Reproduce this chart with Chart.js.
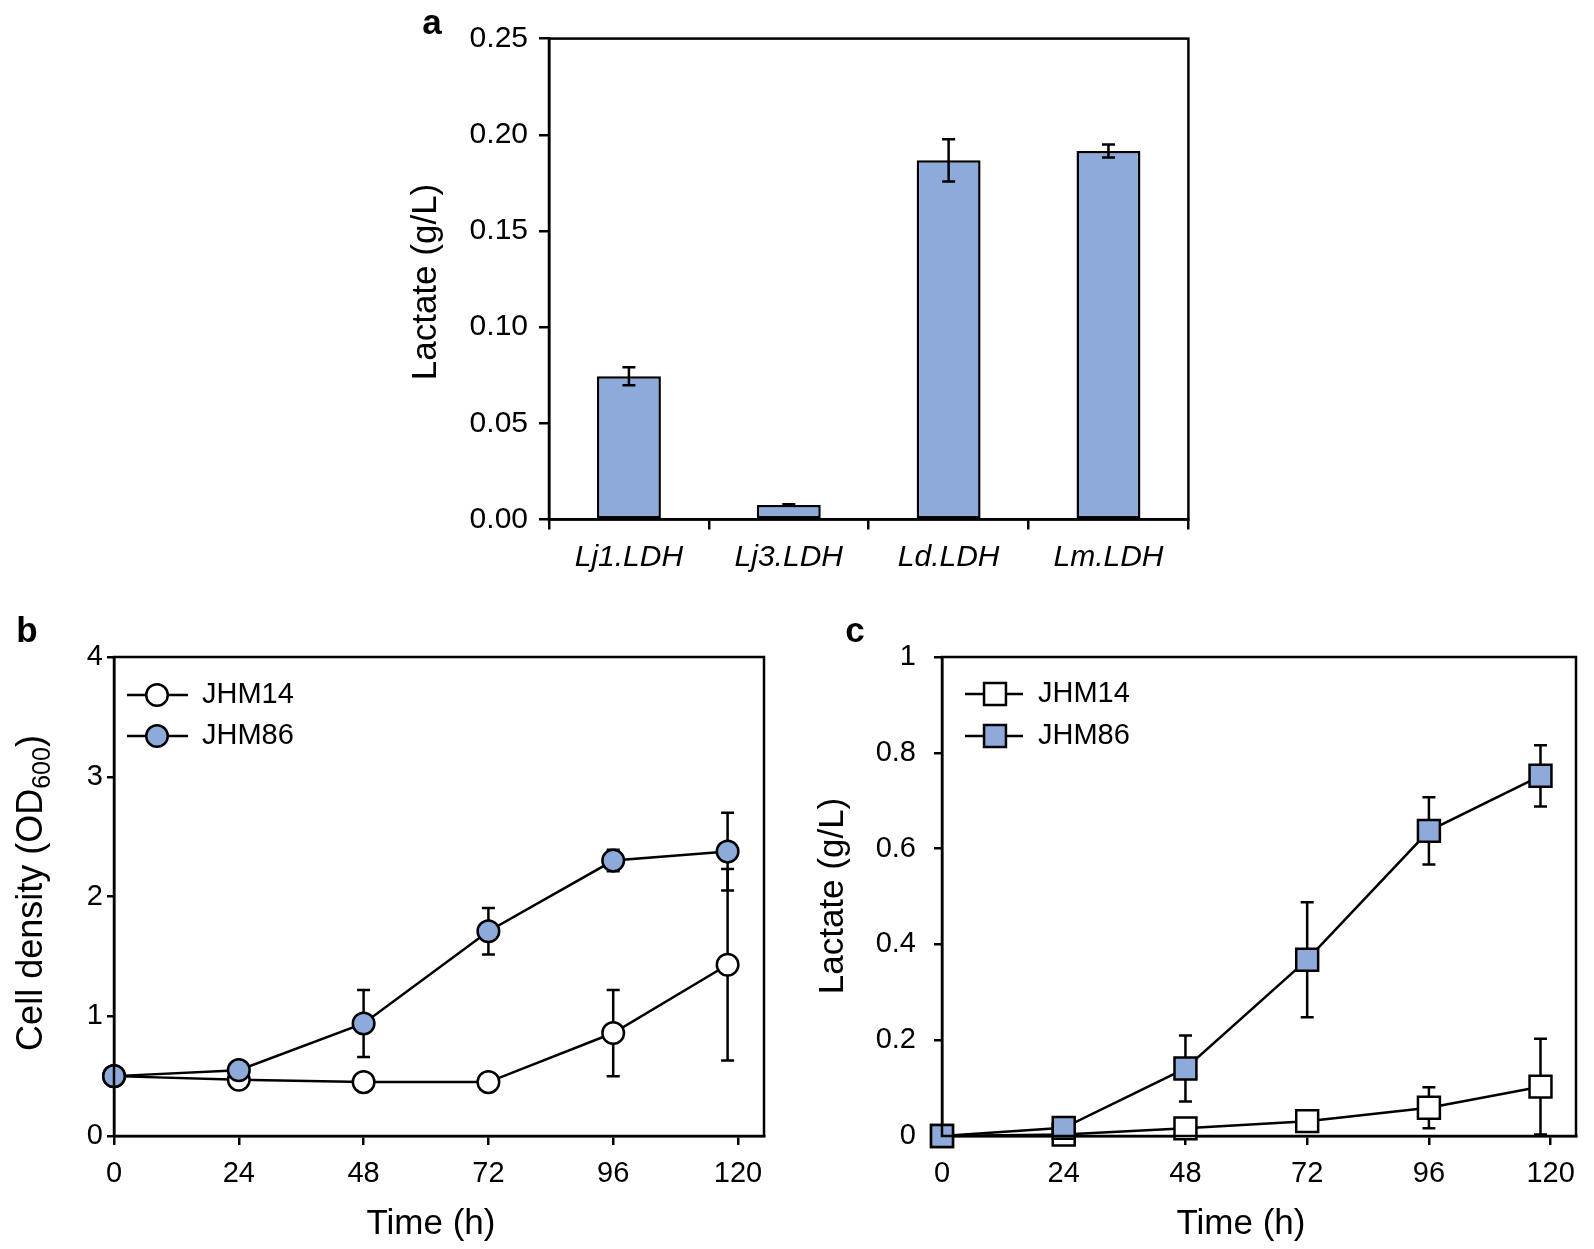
<!DOCTYPE html>
<html>
<head>
<meta charset="utf-8">
<script src="https://cdn.jsdelivr.net/npm/chart.js@4.4.1/dist/chart.umd.min.js"></script>
<style>
  html, body { margin: 0; padding: 0; background: #fff; }
  #wrap { position: relative; width: 1594px; height: 1249px; }
  #wrap canvas { position: absolute; left: 0; top: 0; }
</style>
</head>
<body>
<div id="wrap">
  <canvas id="chartA" width="1594" height="1249"></canvas>
  <canvas id="chartB" width="1594" height="1249"></canvas>
  <canvas id="chartC" width="1594" height="1249"></canvas>
</div>
<script>
// panel a - lactate by LDH variant
const ldhLabels = ['Lj1.LDH', 'Lj3.LDH', 'Ld.LDH', 'Lm.LDH'];
const ldhLactate = [0.0745, 0.0076, 0.1867, 0.1916];
const ldhLactateErr = [0.0047, 0.0003, 0.011, 0.0034];

// panels b and c - time course
const hours = [0, 24, 48, 72, 96, 118];
const hourTicks = [0, 24, 48, 72, 96, 120];
const odJHM14 = [0.5, 0.47, 0.45, 0.45, 0.86, 1.43];
const odJHM14Err = [0, 0, 0, 0, 0.36, 0.80];
const odJHM86 = [0.5, 0.55, 0.94, 1.71, 2.30, 2.375];
const odJHM86Err = [0, 0, 0.28, 0.195, 0.09, 0.325];
const lacJHM14 = [0, 0.003, 0.016, 0.031, 0.059, 0.103];
const lacJHM14Err = [0, 0, 0, 0, 0.043, 0.10];
const lacJHM86 = [0, 0.017, 0.141, 0.368, 0.637, 0.752];
const lacJHM86Err = [0, 0, 0.069, 0.12, 0.07, 0.064];

const FONT = "'Liberation Sans', Arial, Helvetica, sans-serif";
const BLUE = '#8eaadb';
const LW = 2.5;
const W = 1594, H = 1249, YW = 100, XH = 100;

Chart.defaults.font.family = FONT;
Chart.defaults.color = '#000';

// chart area is placed by padding + fixed axis sizes
function boxPadding(l, t, r, b) {
  return { left: l - YW, top: t, right: W - r, bottom: H - b - XH };
}

function toPoints(ys) {
  return ys.map((y, i) => ({ x: hours[i], y: y }));
}

const errorBars = {
  id: 'errorBars',
  draw(chart) {
    const ctx = chart.ctx;
    ctx.save();
    ctx.strokeStyle = '#000';
    ctx.lineWidth = LW;
    chart.data.datasets.forEach((ds, i) => {
      if (!ds.errors) return;
      const meta = chart.getDatasetMeta(i);
      const yScale = chart.scales[meta.yAxisID];
      meta.data.forEach((el, j) => {
        const e = ds.errors[j];
        if (!e) return;
        const v = typeof ds.data[j] === 'object' ? ds.data[j].y : ds.data[j];
        const top = yScale.getPixelForValue(v + e);
        const bot = yScale.getPixelForValue(v - e);
        ctx.beginPath();
        ctx.moveTo(el.x, top);
        ctx.lineTo(el.x, bot);
        ctx.moveTo(el.x - 6.5, top);
        ctx.lineTo(el.x + 6.5, top);
        ctx.moveTo(el.x - 6.5, bot);
        ctx.lineTo(el.x + 6.5, bot);
        ctx.stroke();
      });
    });
    ctx.restore();
  },
  beforeDatasetsDraw(chart, args, opts) {
    if (opts.behind) this.draw(chart);
  },
  afterDatasetsDraw(chart, args, opts) {
    if (!opts.behind) this.draw(chart);
  }
};

const frameBox = {
  id: 'frameBox',
  afterDraw(chart) {
    const { ctx, chartArea: a } = chart;
    ctx.save();
    ctx.strokeStyle = '#000';
    ctx.lineWidth = LW;
    ctx.strokeRect(a.left, a.top, a.right - a.left, a.bottom - a.top);
    ctx.restore();
  }
};

const panelText = {
  id: 'panelText',
  afterDraw(chart, args, opts) {
    const ctx = chart.ctx;
    (opts.items || []).forEach(it => {
      ctx.save();
      ctx.fillStyle = '#000';
      ctx.textBaseline = 'middle';
      ctx.translate(it.x, it.y);
      if (it.rotate) ctx.rotate(-Math.PI / 2);
      const parts = it.parts || [{ t: it.text }];
      const fonts = parts.map(p => (it.bold ? 'bold ' : '') + (p.sub ? it.subSize : it.size) + 'px ' + FONT);
      let total = 0;
      const widths = parts.map((p, k) => {
        ctx.font = fonts[k];
        const w = ctx.measureText(p.t).width;
        total += w;
        return w;
      });
      let x = -total / 2;
      ctx.textAlign = 'left';
      parts.forEach((p, k) => {
        ctx.font = fonts[k];
        ctx.fillText(p.t, x, p.sub ? it.size * 0.3 : 0);
        x += widths[k];
      });
      ctx.restore();
    });
  }
};

const lineLegend = {
  id: 'lineLegend',
  afterDraw(chart, args, opts) {
    if (!opts.ys) return;
    const ctx = chart.ctx;
    chart.data.datasets.forEach((ds, i) => {
      const y = opts.ys[i];
      ctx.save();
      ctx.strokeStyle = '#000';
      ctx.lineWidth = LW;
      ctx.beginPath();
      ctx.moveTo(opts.x0, y);
      ctx.lineTo(opts.x1, y);
      ctx.stroke();
      ctx.fillStyle = ds.pointBackgroundColor;
      ctx.beginPath();
      if (ds.pointStyle === 'rect') {
        const s = ds.pointRadius * Math.SQRT1_2;
        ctx.rect(opts.mx - s, y - s, 2 * s, 2 * s);
      } else {
        ctx.arc(opts.mx, y, ds.pointRadius, 0, Math.PI * 2);
      }
      ctx.fill();
      ctx.stroke();
      ctx.fillStyle = '#000';
      ctx.font = opts.size + 'px ' + FONT;
      ctx.textAlign = 'left';
      ctx.textBaseline = 'middle';
      ctx.fillText(ds.label, opts.tx, y);
      ctx.restore();
    });
  }
};

function yAxis(min, max, step, fmt, tickLen, pad, size) {
  return {
    min: min,
    max: max,
    border: { display: true, color: '#000', width: LW },
    grid: { drawOnChartArea: false, drawTicks: true, tickLength: tickLen, color: '#000', lineWidth: LW },
    ticks: { stepSize: step, padding: pad, color: '#000', font: { size: size }, callback: fmt },
    afterFit: s => { s.width = YW; }
  };
}

function timeAxis() {
  return {
    type: 'linear',
    min: 0,
    max: 125,
    border: { display: true, color: '#000', width: LW },
    grid: { drawOnChartArea: false, drawTicks: true, tickLength: 9, color: '#000', lineWidth: LW },
    ticks: { stepSize: 24, includeBounds: false, padding: 12, color: '#000', font: { size: 29 } },
    afterBuildTicks: s => { s.ticks = hourTicks.map(v => ({ value: v })); },
    afterFit: s => { s.height = XH; }
  };
}

function lineSet(label, ys, errs, style, fill, radius, order) {
  return {
    label: label,
    data: toPoints(ys),
    errors: errs,
    borderColor: '#000',
    borderWidth: LW,
    pointStyle: style,
    pointRadius: radius,
    pointHoverRadius: radius,
    pointBackgroundColor: fill,
    pointBorderColor: '#000',
    pointBorderWidth: LW,
    tension: 0,
    clip: false,
    order: order
  };
}

// a
new Chart(document.getElementById('chartA'), {
  type: 'bar',
  data: {
    labels: ldhLabels,
    datasets: [{
      label: 'Lactate',
      data: ldhLactate,
      errors: ldhLactateErr,
      backgroundColor: BLUE,
      borderColor: '#000',
      borderWidth: LW,
      borderSkipped: false,
      barPercentage: 0.4,
      categoryPercentage: 1.0
    }]
  },
  options: {
    responsive: false,
    animation: false,
    devicePixelRatio: 1,
    layout: { padding: boxPadding(549, 38.6, 1188.4, 519.5) },
    plugins: {
      legend: { display: false },
      tooltip: { enabled: false },
      errorBars: { behind: false },
      panelText: {
        items: [
          { text: 'a', x: 432, y: 24, size: 35, bold: true },
          { text: 'Lactate (g/L)', x: 426, y: 282, size: 35, rotate: true }
        ]
      }
    },
    scales: {
      x: {
        type: 'category',
        offset: true,
        border: { display: true, color: '#000', width: LW },
        grid: { offset: true, drawOnChartArea: false, drawTicks: true, tickLength: 10, color: '#000', lineWidth: LW },
        ticks: { padding: 10, color: '#000', font: { size: 30, style: 'italic' } },
        afterFit: s => { s.height = XH; }
      },
      y: yAxis(0, 0.25, 0.05, v => v.toFixed(2), 10, 11, 30)
    }
  },
  plugins: [errorBars, frameBox, panelText]
});

// b
new Chart(document.getElementById('chartB'), {
  type: 'line',
  data: {
    datasets: [
      lineSet('JHM14', odJHM14, odJHM14Err, 'circle', '#ffffff', 10.8, 1),
      lineSet('JHM86', odJHM86, odJHM86Err, 'circle', BLUE, 10.8, 0)
    ]
  },
  options: {
    responsive: false,
    animation: false,
    devicePixelRatio: 1,
    layout: { padding: boxPadding(114, 657, 764, 1136) },
    plugins: {
      legend: { display: false },
      tooltip: { enabled: false },
      errorBars: { behind: true },
      lineLegend: { x0: 127, x1: 188, mx: 157, tx: 202, ys: [695, 736], size: 29 },
      panelText: {
        items: [
          { text: 'b', x: 27, y: 632, size: 35, bold: true },
          { text: 'Time (h)', x: 431, y: 1224, size: 35 },
          { parts: [{ t: 'Cell density (OD' }, { t: '600', sub: true }, { t: ')' }], x: 32, y: 893, size: 36, subSize: 25, rotate: true }
        ]
      }
    },
    scales: {
      x: timeAxis(),
      y: yAxis(0, 4, 1, v => String(v), 7, 4, 29)
    }
  },
  plugins: [errorBars, frameBox, panelText, lineLegend]
});

// c
new Chart(document.getElementById('chartC'), {
  type: 'line',
  data: {
    datasets: [
      lineSet('JHM14', lacJHM14, lacJHM14Err, 'rect', '#ffffff', 15.5, 1),
      lineSet('JHM86', lacJHM86, lacJHM86Err, 'rect', BLUE, 15.5, 0)
    ]
  },
  options: {
    responsive: false,
    animation: false,
    devicePixelRatio: 1,
    layout: { padding: boxPadding(942, 657, 1592, 1136) },
    plugins: {
      legend: { display: false },
      tooltip: { enabled: false },
      errorBars: { behind: true },
      lineLegend: { x0: 965, x1: 1023, mx: 995, tx: 1038, ys: [694, 736], size: 29 },
      panelText: {
        items: [
          { text: 'c', x: 855, y: 632, size: 35, bold: true },
          { text: 'Time (h)', x: 1241, y: 1224, size: 35 },
          { text: 'Lactate (g/L)', x: 833, y: 896, size: 35, rotate: true }
        ]
      }
    },
    scales: {
      x: timeAxis(),
      y: yAxis(0, 1, 0.2, v => (v === 0 || v === 1) ? String(v) : v.toFixed(1), 8, 18, 29)
    }
  },
  plugins: [errorBars, frameBox, panelText, lineLegend]
});
</script>
</body>
</html>
